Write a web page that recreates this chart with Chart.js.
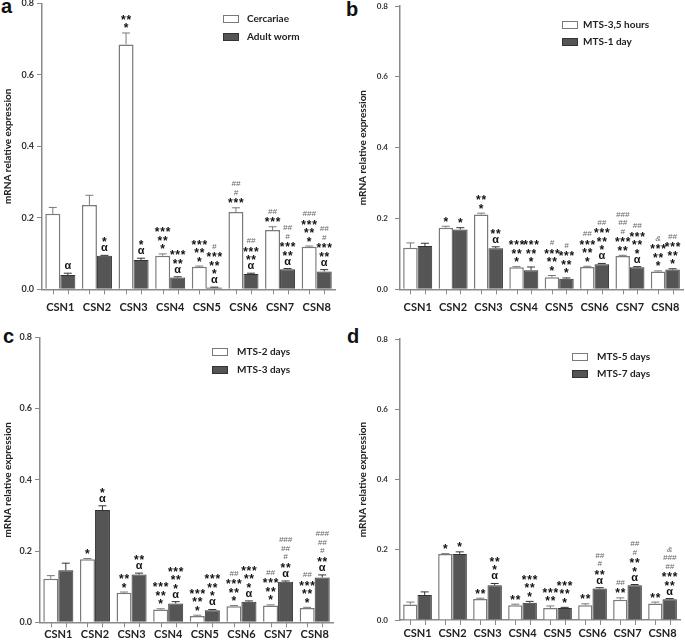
<!DOCTYPE html>
<html><head><meta charset="utf-8">
<script src="https://cdn.jsdelivr.net/npm/chart.js@4.4.1/dist/chart.umd.min.js"></script>
<style>
body{margin:0;background:#fff;width:685px;height:643px;overflow:hidden;position:relative}
canvas{position:absolute}
.lbl{position:absolute;font:bold 20px "Liberation Sans",Arial,sans-serif;color:#111;line-height:20px}
</style></head><body>
<div class="lbl" style="left:1px;top:-4px">a</div>
<div class="lbl" style="left:346px;top:-1px">b</div>
<div class="lbl" style="left:3px;top:326px">c</div>
<div class="lbl" style="left:347px;top:326px">d</div>
<canvas id="ca" width="342" height="322" style="left:0;top:0"></canvas>
<canvas id="cb" width="343" height="322" style="left:342px;top:0"></canvas>
<canvas id="cc" width="342" height="321" style="left:0;top:322px"></canvas>
<canvas id="cd" width="343" height="321" style="left:342px;top:322px"></canvas>
<script>
// ---------- data ----------
const categories = ['CSN1','CSN2','CSN3','CSN4','CSN5','CSN6','CSN7','CSN8'];
const yTicks = [0, 0.2, 0.4, 0.6, 0.8];
const yTitle = 'mRNA relative expression';

// panel a
const aLabels = ['Cercariae', 'Adult worm'];
const aWhite    = [0.211, 0.236, 0.685, 0.094, 0.063, 0.216, 0.166, 0.119];
const aWhiteErr = [0.018, 0.027, 0.032, 0.005, 0.002, 0.012, 0.009, 0.002];
const aDark     = [0.040, 0.094, 0.082, 0.033, 0.005, 0.043, 0.056, 0.050];
const aDarkErr  = [0.005, 0.001, 0.005, 0.002, 0.001, 0.002, 0.002, 0.005];
const aWhiteSig = [[],[],['**','*'],['***','**','*'],['***','**','*'],['##','#','***'],['##','***'],['###','***','**','*']];
const aDarkSig  = [['α'],['*','α'],['*','α'],['***','**','α'],['#','***','**','*','α'],['##','***','**','α'],['##','#','***','**','α'],['##','#','***','**','α']];

// panel b
const bLabels = ['MTS-3,5 hours', 'MTS-1 day'];
const bWhite    = [0.117, 0.174, 0.211, 0.062, 0.034, 0.063, 0.094, 0.050];
const bWhiteErr = [0.014, 0.004, 0.004, 0.002, 0.005, 0.002, 0.002, 0.002];
const bDark     = [0.122, 0.169, 0.116, 0.054, 0.030, 0.071, 0.062, 0.056];
const bDarkErr  = [0.008, 0.005, 0.004, 0.009, 0.002, 0.002, 0.002, 0.002];
const bWhiteSig = [[],['*'],['**','*'],['***','**','*'],['#','***','**','*'],['##','***','**','*'],['###','##','#','***','**'],['&','***','**','*']];
const bDarkSig  = [[],['*'],['**','α'],['***','**','*'],['#','***','**','*'],['##','***','**','*','α'],['##','***','**','*','α'],['##','***','**','*']];

// panel c
const cLabels = ['MTS-2 days', 'MTS-3 days'];
const cWhite    = [0.122, 0.177, 0.083, 0.036, 0.018, 0.045, 0.047, 0.040];
const cWhiteErr = [0.009, 0.002, 0.002, 0.002, 0.002, 0.002, 0.002, 0.002];
const cDark     = [0.146, 0.315, 0.134, 0.053, 0.034, 0.058, 0.114, 0.126];
const cDarkErr  = [0.020, 0.012, 0.004, 0.005, 0.002, 0.002, 0.002, 0.007];
const cWhiteSig = [[],['*'],['**','*'],['***','**','*'],['***','**','*'],['##','***','**','*'],['##','***','**','*'],['##','***','**','*']];
const cDarkSig  = [[],['*','α'],['**','α'],['***','**','*','α'],['***','**','*','α'],['***','**','*','α'],['###','##','#','**','α'],['###','##','#','**','α']];

// panel d
const dLabels = ['MTS-5 days', 'MTS-7 days'];
const dWhite    = [0.044, 0.188, 0.060, 0.042, 0.034, 0.042, 0.058, 0.047];
const dWhiteErr = [0.007, 0.001, 0.002, 0.003, 0.006, 0.004, 0.005, 0.004];
const dDark     = [0.071, 0.188, 0.099, 0.049, 0.034, 0.090, 0.099, 0.059];
const dDarkErr  = [0.009, 0.006, 0.005, 0.004, 0.002, 0.002, 0.002, 0.002];
const dWhiteSig = [[],['*'],['**'],['**'],['***','**'],['**'],['##','**'],['**']];
const dDarkSig  = [[],['*'],['**','*','α'],['***','**','*'],['***','**','*'],['##','#','**','α'],['##','#','**','*','α'],['&','###','##','***','**','α']];

// ---------- styling ----------
const AXIS = '#8a8a8a';
const WHITE_FILL = '#ffffff', WHITE_EDGE = '#7a7a7a';
const DARK_FILL = '#555555', DARK_EDGE = '#333333';
const FONT = "Lato, 'Liberation Sans', Arial, sans-serif";
Chart.defaults.font.family = FONT;
Chart.defaults.animation = false;

const extras = {
  id: 'extras',
  afterDatasetsDraw(chart) {
    const ctx = chart.ctx, ys = chart.scales.y, area = chart.chartArea;
    ctx.save();
    chart.data.datasets.forEach((ds, di) => {
      const meta = chart.getDatasetMeta(di);
      meta.data.forEach((bar, i) => {
        const v = ds.data[i], e = ds.errs[i];
        const yTop = ys.getPixelForValue(v + e);
        // error bar
        ctx.strokeStyle = ds.borderColor; ctx.lineWidth = 1;
        ctx.beginPath();
        ctx.moveTo(bar.x, bar.y); ctx.lineTo(bar.x, yTop);
        ctx.moveTo(bar.x - 4, yTop); ctx.lineTo(bar.x + 4, yTop);
        ctx.stroke();
        // tick under bar
        ctx.strokeStyle = AXIS; ctx.lineWidth = 1;
        ctx.beginPath(); ctx.moveTo(Math.round(bar.x) + 0.5, area.bottom); ctx.lineTo(Math.round(bar.x) + 0.5, area.bottom + 5); ctx.stroke();
        // significance marks
        const sig = ds.sig[i], n = sig.length;
        for (let k = 0; k < n; k++) {
          const t = sig[n - 1 - k];
          const cy = yTop - 7 - k * 8.5;
          let dx = 0;
          ctx.letterSpacing = '0px';
          if (t.indexOf('#') >= 0 || t === '&') { ctx.font = "italic 8px 'Liberation Sans', Arial, sans-serif"; ctx.fillStyle = '#666'; }
          else if (t === 'α') { ctx.font = "bold 11px 'Liberation Sans', Arial, sans-serif"; ctx.fillStyle = '#111'; }
          else { ctx.font = "bold 12px 'Liberation Sans', Arial, sans-serif"; ctx.fillStyle = '#111'; ctx.letterSpacing = '0.8px'; dx = 0.4; }
          ctx.textAlign = 'center'; ctx.textBaseline = 'alphabetic';
          const m = ctx.measureText(t);
          const base = cy + (m.actualBoundingBoxAscent - m.actualBoundingBoxDescent) / 2;
          ctx.fillText(t, bar.x + dx, base);
        }
      });
    });
    ctx.letterSpacing = '0px';
    // legend inside the plot
    const lg = chart.options.plugins.extras;
    chart.data.datasets.forEach((ds, di) => {
      const cy = lg.y + di * lg.dy;
      ctx.fillStyle = ds.backgroundColor; ctx.strokeStyle = ds.borderColor; ctx.lineWidth = 1;
      ctx.fillRect(lg.x, cy - 4, 16, 8); ctx.strokeRect(lg.x + 0.5, cy - 3.5, 15, 7);
      ctx.fillStyle = '#222'; ctx.font = "bold 10px " + FONT; ctx.textAlign = 'left'; ctx.textBaseline = 'middle';
      ctx.fillText(ds.label, lg.x + lg.tx, cy);
    });
    ctx.restore();
  }
};

function makePanel(id, labels, white, whiteErr, dark, darkErr, whiteSig, darkSig, g) {
  new Chart(document.getElementById(id), {
    type: 'bar',
    data: {
      labels: categories,
      datasets: [
        { label: labels[0], data: white, errs: whiteErr, sig: whiteSig, backgroundColor: WHITE_FILL, borderColor: WHITE_EDGE, borderWidth: 1.5 },
        { label: labels[1], data: dark, errs: darkErr, sig: darkSig, backgroundColor: DARK_FILL, borderColor: DARK_EDGE, borderWidth: 1 }
      ]
    },
    options: {
      responsive: false,
      animation: false,
      layout: { padding: { top: g.padTop, right: g.padRight, left: 0, bottom: 0 } },
      datasets: { bar: { barPercentage: 1, categoryPercentage: 0.82 } },
      plugins: { legend: { display: false }, tooltip: { enabled: false }, extras: g.legend },
      scales: {
        x: {
          grid: { display: false, drawTicks: false },
          border: { display: true, color: AXIS, width: 1.5 },
          ticks: { color: '#222', font: { size: 11, weight: 'bold' }, padding: g.xPad, maxRotation: 0 },
          afterFit(s) { s.height = g.xHeight; s.paddingLeft = 0; s.paddingRight = 0; }
        },
        y: {
          min: 0, max: 0.8,
          afterBuildTicks(s) { s.ticks = yTicks.map(v => ({ value: v })); },
          grid: { display: true, drawOnChartArea: false, drawTicks: true, tickLength: 5, color: AXIS },
          border: { display: true, color: AXIS, width: 1.5 },
          ticks: { color: '#333', font: { size: g.yFont, weight: 'bold' }, padding: g.yPad, callback: v => Number(v).toFixed(1) },
          title: { display: true, text: yTitle, color: '#222', font: { size: 10, weight: 'bold' }, padding: { top: g.titlePad, bottom: 0 } },
          afterFit(s) { s.width = g.yWidth; s.paddingTop = 0; s.paddingBottom = 0; }
        }
      }
    },
    plugins: [extras]
  });
}

makePanel('ca', aLabels, aWhite, aWhiteErr, aDark, aDarkErr, aWhiteSig, aDarkSig,
  { padTop: 3.3, padRight: 7, xHeight: 32.7, yWidth: 42, xPad: 12, yFont: 9, yPad: 3, titlePad: 2, legend: { x: 223, y: 19, dy: 18, tx: 24 } });
makePanel('cb', bLabels, bWhite, bWhiteErr, bDark, bDarkErr, bWhiteSig, bDarkSig,
  { padTop: 6, padRight: 2, xHeight: 32.7, yWidth: 58, xPad: 12, yFont: 8, yPad: 7, titlePad: 15, legend: { x: 220, y: 25, dy: 17, tx: 21 } });
makePanel('cc', cLabels, cWhite, cWhiteErr, cDark, cDarkErr, cWhiteSig, cDarkSig,
  { padTop: 15.3, padRight: 9, xHeight: 20.7, yWidth: 40, xPad: 6, yFont: 9, yPad: 3, titlePad: 2, legend: { x: 212, y: 30, dy: 18, tx: 25 } });
makePanel('cd', dLabels, dWhite, dWhiteErr, dDark, dDarkErr, dWhiteSig, dDarkSig,
  { padTop: 17, padRight: 5, xHeight: 23, yWidth: 58, xPad: 6.4, yFont: 8, yPad: 7, titlePad: 15, legend: { x: 230, y: 35, dy: 17, tx: 25 } });
</script>
</body></html>
